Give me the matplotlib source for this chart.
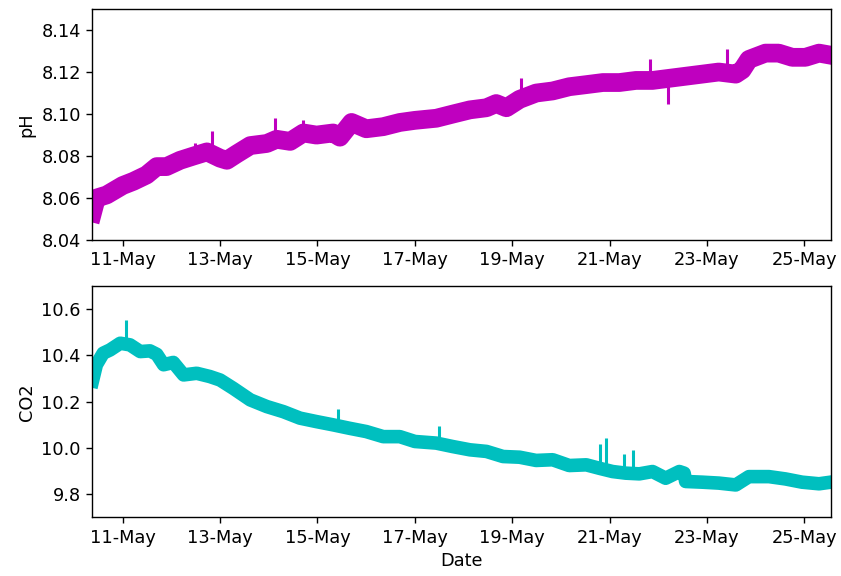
import datetime as dt
import matplotlib
matplotlib.use("Agg")
import matplotlib.pyplot as plt
import matplotlib.dates as mdates

# time points, as day of May (fractional)
ph_days = [10.38, 10.46, 10.67, 11.0, 11.22, 11.49, 11.7, 11.9, 12.18, 12.45,
           12.73, 13.0, 13.14, 13.34, 13.62, 13.96, 14.16, 14.44, 14.71, 14.98,
           15.32, 15.46, 15.7, 16.0, 16.35, 16.69, 17.0, 17.44, 17.78, 18.13,
           18.47, 18.67, 18.88, 19.15, 19.49, 19.83, 20.17, 20.52, 20.86, 21.2,
           21.54, 21.88, 22.22, 22.56, 22.9, 23.24, 23.59, 23.72, 23.86, 24.2,
           24.47, 24.75, 25.02, 25.3, 25.54]
ph_vals = [8.053, 8.060, 8.0615, 8.066, 8.068, 8.071, 8.075, 8.075, 8.078, 8.080,
           8.082, 8.079, 8.078, 8.081, 8.085, 8.086, 8.088, 8.087, 8.091, 8.090,
           8.091, 8.089, 8.096, 8.093, 8.094, 8.096, 8.097, 8.098, 8.100, 8.102,
           8.103, 8.105, 8.103, 8.107, 8.110, 8.111, 8.113, 8.114, 8.115, 8.115,
           8.116, 8.116, 8.117, 8.118, 8.119, 8.120, 8.119, 8.121, 8.126, 8.129,
           8.129, 8.127, 8.127, 8.129, 8.128]
# short spikes: day, base value, tip value
ph_spike_days = [12.48, 12.84, 14.13, 14.71, 19.17, 21.83, 22.19, 23.13, 23.40]
ph_spike_base = [8.081, 8.082, 8.088, 8.091, 8.107, 8.116, 8.117, 8.120, 8.120]
ph_spike_tip = [8.086, 8.092, 8.098, 8.097, 8.117, 8.126, 8.105, 8.124, 8.131]

co2_days = [10.38, 10.46, 10.6, 10.74, 10.95, 11.15, 11.36, 11.56, 11.7, 11.84,
            12.04, 12.25, 12.52, 12.79, 13.0, 13.27, 13.62, 13.96, 14.3, 14.64,
            14.98, 15.32, 15.66, 16.0, 16.35, 16.69, 17.0, 17.44, 17.78, 18.13,
            18.47, 18.81, 19.15, 19.49, 19.83, 20.17, 20.52, 20.79, 21.06, 21.33,
            21.61, 21.88, 22.15, 22.43, 22.53, 22.56, 22.9, 23.24, 23.59, 23.86,
            24.27, 24.61, 24.95, 25.3, 25.54]
co2_vals = [10.29, 10.36, 10.41, 10.424, 10.453, 10.446, 10.417, 10.42, 10.405, 10.36,
            10.37, 10.316, 10.323, 10.309, 10.294, 10.258, 10.208, 10.179, 10.157, 10.129,
            10.114, 10.10, 10.085, 10.071, 10.049, 10.049, 10.028, 10.021, 10.006, 9.992,
            9.985, 9.963, 9.96, 9.946, 9.949, 9.924, 9.927, 9.912, 9.898, 9.891,
            9.888, 9.898, 9.869, 9.898, 9.891, 9.855, 9.852, 9.848, 9.840, 9.876,
            9.876, 9.866, 9.852, 9.845, 9.852]
co2_spike_days = [11.07, 15.43, 17.50, 20.81, 20.93, 21.30, 21.47]
co2_spike_base = [10.45, 10.10, 10.02, 9.912, 9.910, 9.891, 9.889]
co2_spike_tip = [10.554, 10.17, 10.097, 10.016, 10.045, 9.974, 9.992]


def to_dates(days):
    return [dt.datetime(2019, 5, 1) + dt.timedelta(days=d - 1) for d in days]


plt.rcParams['font.size'] = 12.8

fig, (ax1, ax2) = plt.subplots(2, 1, figsize=(8.41, 5.76), dpi=100)
fig.subplots_adjust(left=0.1094, right=0.9878, top=0.9844, bottom=0.1019, hspace=0.199)

ax1.plot(to_dates(ph_days), ph_vals, color='m', linewidth=13.5, solid_joinstyle='round')
ax1.vlines(to_dates(ph_spike_days), ph_spike_base, ph_spike_tip, color='m', linewidth=2.2)
ax1.set_ylim(8.04, 8.15)
ax1.set_yticks([8.04, 8.06, 8.08, 8.10, 8.12, 8.14])
ax1.set_ylabel('pH')

ax2.plot(to_dates(co2_days), co2_vals, color='c', linewidth=9.8, solid_joinstyle='round')
ax2.vlines(to_dates(co2_spike_days), co2_spike_base, co2_spike_tip, color='c', linewidth=2.2)
ax2.set_ylim(9.7, 10.7)
ax2.set_yticks([9.8, 10.0, 10.2, 10.4, 10.6])
ax2.set_ylabel('CO2')
ax2.set_xlabel('Date')

xmin, xmax = to_dates([10.37, 25.54])
for ax in (ax1, ax2):
    ax.set_xlim(xmin, xmax)
    ax.xaxis.set_major_locator(mdates.DayLocator(bymonthday=range(11, 26, 2)))
    ax.xaxis.set_major_formatter(mdates.DateFormatter('%d-%b'))
    ax.tick_params(length=4.6, width=1.0)
    for s in ax.spines.values():
        s.set_linewidth(1.0)

fig.savefig('out.png')
